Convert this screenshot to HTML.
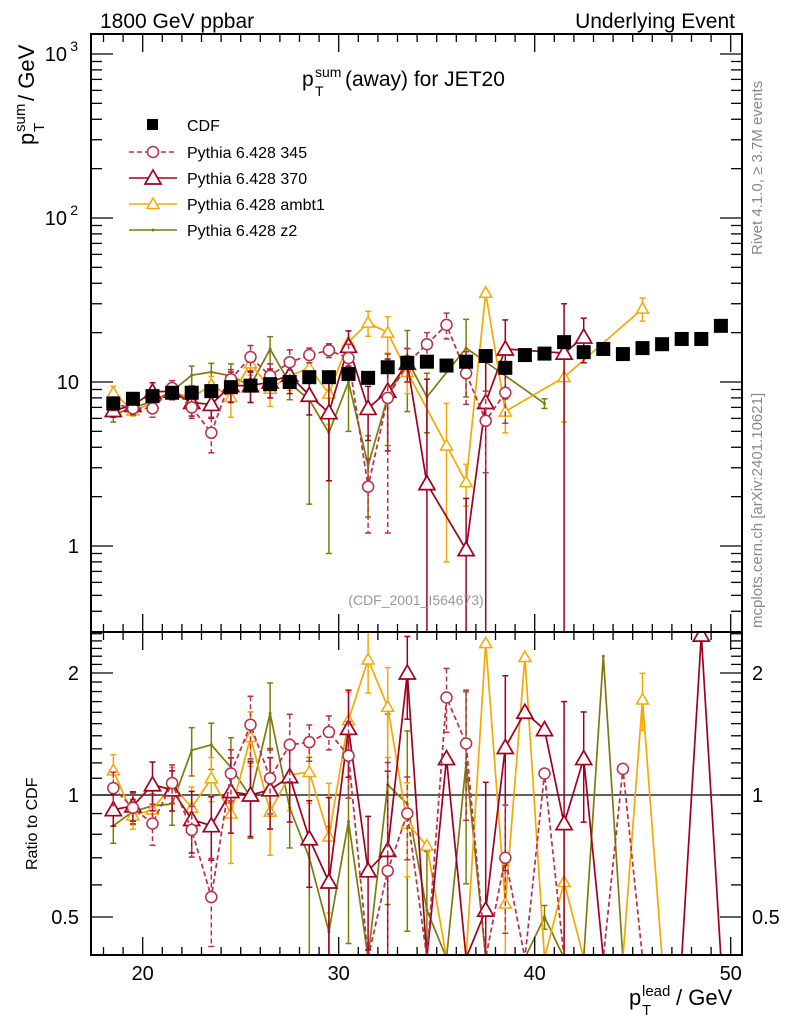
<!DOCTYPE html>
<html><head><meta charset="utf-8"><style>
html,body{margin:0;padding:0;background:#fff;overflow:hidden;width:786px;height:1024px;}
svg{display:block;font-family:"Liberation Sans",sans-serif;overflow:hidden;}
</style></head><body>
<svg id="c" width="786" height="1024" viewBox="0 0 786 1024" xmlns="http://www.w3.org/2000/svg">
<g id="g"></g>
</svg>
<script>
const bins=[18.5,19.5,20.5,21.5,22.5,23.5,24.5,25.5,26.5,27.5,28.5,29.5,30.5,31.5,32.5,33.5,34.5,35.5,36.5,37.5,38.5,39.5,40.5,41.5,42.5,43.5,44.5,45.5,46.5,47.5,48.5,49.5];
const cdfVals=[7.4,7.9,8.2,8.6,8.6,8.8,9.3,9.5,9.7,10,10.7,10.7,11.2,10.6,12.3,13.1,13.3,12.6,13.3,14.4,12.2,14.6,14.9,17.5,15.2,15.9,14.8,16.1,17.0,18.3,18.3,22];
const p345Vals=[7.4,6.9,6.9,9.2,7.0,4.9,10.4,14.2,10.9,13.2,14.6,15.6,14.0,2.3,8.0,13,17,22.3,11.3,5.8,8.6,null,null,null,null,null,null,null,null,null,null,null];
const p345Err=[0.7,0.6,0.8,1,1,1.2,1.5,2.5,2,2.5,1.5,1.5,3,1.1,6.8,3,3,4,4,3,3,null,null,null,null,null,null,null,null,null,null,null];
const p370Vals=[6.7,7.2,8.7,8.8,7.5,7.3,9.5,9.5,10,11,8.3,6.5,16.5,6.9,8.8,13,2.4,null,0.95,7.5,15.9,null,null,15.0,18.8,null,null,null,null,null,null,null];
const p370Err=[0.6,0.6,1.2,1,1.3,1.3,2,2,2,2.5,2,4,4,2.5,5,3,8,null,1,8,8,null,null,15,5.7,null,null,null,null,null,null,null];
const ambVals=[8.6,6.7,7.4,8.7,8.0,9.6,8.1,13.0,9.1,10.9,12.2,8.5,17.5,23,20,11.5,null,4.1,2.45,35,6.6,null,null,10.7,null,null,null,28,null,null,null,null];
const ambErr=[0.8,0.5,0.7,0.9,1,1.2,2,2,2,2,2,3,3,4,5,3,null,3.3,0.7,0,1.7,null,null,5,null,null,null,4.5,null,null,null,null];
const z2Vals=[6.3,7.0,7.6,8.8,11.0,11.5,10.9,9.5,15.9,9.8,7.8,4.9,10,3.1,8.1,13.6,8.1,null,16.1,null,null,null,7.4,null,null,null,null,null,null,null,null,null];
const z2Err=[0.6,0.5,0.8,1,1.5,1.5,2,2,3,2,6,4,5,1.6,4,7,3.2,null,8,null,null,null,0.5,null,null,null,null,null,null,null,null,null];
const r345=[1.04,0.93,0.85,1.07,0.82,0.56,1.13,1.49,1.10,1.33,1.35,1.43,1.25,0,0.65,0.9,0,1.74,1.34,0,0.70,0,1.13,0,0,0,1.16,0,0,0,0,0];
const r370=[0.92,0.94,1.06,1.03,0.87,0.84,1.02,1.0,1.03,1.11,0.78,0.61,1.46,0.65,0.73,2.0,0,1.23,0,0.52,1.31,1.6,1.45,0.85,1.23,0,0,0,0,0,2.48,0];
const rAmb=[1.15,0.89,0.92,1.06,0.93,1.10,0.90,1.39,0.91,1.12,1.14,0.79,1.53,2.16,1.65,0.85,0.75,0,0,2.37,0.54,2.19,0,0.61,0,0,0,1.72,0,0,0,0];
const rZ2=[0.84,0.91,0.94,0.95,1.29,1.33,1.17,0.99,1.59,0.93,0.70,0.46,0.86,0,1.06,0.95,0.52,0,1.2,0,0,0,0.5,0,0,2.2,0,0,0,0,0,0];
const xTicks=[20,30,40,50];
const yTicks=[1,10,100,1000];
const yTickLabels=["1","10","10","10"];
const rTicks=[0.5,1,2];

const NS="http://www.w3.org/2000/svg";
const G=document.getElementById('g');
const L=91,R=742,T=34,MB=632,RB=955;
const xs=v=>142.7+(v-20)*19.6;
const ym=v=>546-Math.log10(v)*164;
const yr=v=>795-Math.log2(v)*122;
function el(tag,attrs,parent){const e=document.createElementNS(NS,tag);for(const k in attrs)e.setAttribute(k,attrs[k]);(parent||G).appendChild(e);return e;}
function txt(x,y,s,size,anchor,fill,parent){const e=el('text',{x:x,y:y,'font-size':size,'text-anchor':anchor||'start',fill:fill||'#000'},parent);e.textContent=s;return e;}

const colors={c345:'#b83048',c370:'#a00020',amb:'#f5a800',z2:'#7c7c0c'};

const defs=el('defs',{});
const cp1=el('clipPath',{id:'cm'},defs);el('rect',{x:L,y:T,width:R-L,height:MB-T},cp1);
const cp2=el('clipPath',{id:'cr'},defs);el('rect',{x:L,y:MB,width:R-L,height:RB-MB},cp2);

const mainG=el('g',{'clip-path':'url(#cm)'});


const ratG=el('g',{'clip-path':'url(#cr)'});



const one=el('line',{x1:L,x2:R,y1:yr(1),y2:yr(1),stroke:'#000','stroke-width':1.2},ratG);



function marker(parent,kind,x,y,col){
  if(kind==='circle'){el('circle',{cx:x,cy:y,r:5.5,fill:'#fff',stroke:col,'stroke-width':1.5},parent);}
  else if(kind==='tri'){el('path',{d:`M${x},${y-8}L${x+8},${y+6}L${x-8},${y+6}Z`,fill:'#fff',stroke:col,'stroke-width':1.7},parent);}
  else if(kind==='stri'){el('path',{d:`M${x},${y-6}L${x+6},${y+4.5}L${x-6},${y+4.5}Z`,fill:'#fff',stroke:col,'stroke-width':1.5},parent);}
  else if(kind==='dot'){el('circle',{cx:x,cy:y,r:1.5,fill:col},parent);}
}
function drawMain(name,vals,errs,col,kind,dash){
  const g=el('g',{},mainG);
  
  
  let d='',started=false;
  vals.forEach((v,i)=>{if(v==null)return;const x=xs(bins[i]),y=ym(v);d+=(started?'L':'M')+x+','+y;started=true;});
  el('path',{d:d,fill:'none',stroke:col,'stroke-width':1.7,'stroke-dasharray':dash||'none'},g);
  vals.forEach((v,i)=>{if(v==null)return;const x=xs(bins[i]);const e=errs[i]||0;
    if(e>0){const hi=ym(v+e),lo=(v-e)>0?Math.min(ym(v-e),MB+2):MB+2;
      el('line',{x1:x,x2:x,y1:hi,y2:lo,stroke:col,'stroke-width':1.5,'stroke-dasharray':dash||'none'},g);
      el('line',{x1:x-3,x2:x+3,y1:hi,y2:hi,stroke:col,'stroke-width':1.5},g);
      if(v-e>0)el('line',{x1:x-3,x2:x+3,y1:lo,y2:lo,stroke:col,'stroke-width':1.5},g);}
    marker(g,kind,x,ym(v),col);});
}
function drawRatio(name,rv,vals,errs,col,kind,dash){
  const g=el('g',{},ratG);
  
  
  let d='';
  rv.forEach((r,i)=>{const x=xs(bins[i]);const y=r>0?yr(r):RB+3;d+=(i?'L':'M')+x+','+y;});
  el('path',{d:d,fill:'none',stroke:col,'stroke-width':1.7,'stroke-dasharray':dash||'none'},g);
  rv.forEach((r,i)=>{if(!(r>0))return;const x=xs(bins[i]);
    const v=vals[i],e=errs[i];
    if(v&&e){const re=r*e/v;const hi=Math.max(yr(r+re),MB-2),lo=(r-re)>0?Math.min(yr(r-re),RB+2):RB+2;
      el('line',{x1:x,x2:x,y1:hi,y2:lo,stroke:col,'stroke-width':1.5,'stroke-dasharray':dash||'none'},g);
      el('line',{x1:x-3,x2:x+3,y1:hi,y2:hi,stroke:col,'stroke-width':1.5},g);
      if(r-re>0)el('line',{x1:x-3,x2:x+3,y1:lo,y2:lo,stroke:col,'stroke-width':1.5},g);}
    marker(g,kind,x,yr(r),col);});
}
drawMain('pythia-z2',z2Vals,z2Err,colors.z2,'dot');
drawMain('pythia-ambt1',ambVals,ambErr,colors.amb,'stri');
drawMain('pythia-370',p370Vals,p370Err,colors.c370,'tri');
drawMain('pythia-345',p345Vals,p345Err,colors.c345,'circle','5,3');
drawRatio('pythia-z2',rZ2,z2Vals,z2Err,colors.z2,'dot');
drawRatio('pythia-ambt1',rAmb,ambVals,ambErr,colors.amb,'stri');
drawRatio('pythia-370',r370,p370Vals,p370Err,colors.c370,'tri');
drawRatio('pythia-345',r345,p345Vals,p345Err,colors.c345,'circle','5,3');
const cg=el('g',{},mainG);


cdfVals.forEach((v,i)=>{const s=el('rect',{x:xs(bins[i])-7,y:ym(v)-7,width:14,height:14,fill:'#000'},cg);

});

const f1=el('rect',{x:L,y:T,width:R-L,height:MB-T,fill:'none',stroke:'#000','stroke-width':2});


const f2=el('rect',{x:L,y:MB,width:R-L,height:RB-MB,fill:'none',stroke:'#000','stroke-width':2});



const axg=el('g',{stroke:'#000','stroke-width':1.3});


for(let k=18;k<=50;k++){const x=xs(k);const major=k%10===0;const len=major?18:8;
  el('line',{x1:x,x2:x,y1:T,y2:T+len},axg);el('line',{x1:x,x2:x,y1:MB,y2:MB-len},axg);
  el('line',{x1:x,x2:x,y1:MB,y2:MB+len},axg);el('line',{x1:x,x2:x,y1:RB,y2:RB-len},axg);}
xTicks.forEach(v=>{const t=txt(xs(v),980,String(v),20,'middle');});
const ayg=el('g',{stroke:'#000','stroke-width':1.3});


for(let dec=0.1;dec<=1000;dec*=10){for(let m=1;m<10;m++){const v=dec*m;const y=ym(v);if(y<T||y>MB)continue;const len=m===1?22:11;
  el('line',{x1:L,x2:L+len,y1:y,y2:y},ayg);el('line',{x1:R,x2:R-len,y1:y,y2:y},ayg);}}
yTicks.forEach((v,i)=>{let t;
  if(i<2){t=txt(L-12,ym(v)+7,yTickLabels[i],20,'end');}
  else{t=txt(L-24,ym(v)+7,yTickLabels[i],20,'end');
    const s=txt(L-13,ym(v)-3,i===2?'2':'3',14,'end');}
  });
[0.4,0.5,0.6,0.7,0.8,0.9,1,1.1,1.2,1.3,1.4,1.5,1.6,1.7,1.8,1.9,2,2.1,2.2,2.3,2.4,2.5].forEach(v=>{const y=yr(v);if(y<MB||y>RB)return;const major=(v===0.5||v===1||v===2);const len=major?22:11;
  el('line',{x1:L,x2:L+len,y1:y,y2:y},ayg);el('line',{x1:R,x2:R-len,y1:y,y2:y},ayg);});
rTicks.forEach(v=>{const a=txt(L-12,yr(v)+7,String(v),20,'end');
  const b=txt(R+10,yr(v)+7,String(v),20,'start');});

let t;
t=txt(100,28,'1800 GeV ppbar',21);
t=txt(735,28,'Underlying Event',21,'end');
// title
const tg=el('g',{});


txt(302,86,'p',21,'start','#000',tg);
txt(315,77,'sum',14,'start','#000',tg);
txt(315,96,'T',14,'start','#000',tg);
txt(345,86,'(away) for JET20',21,'start','#000',tg);
// y title
const yg=el('g',{transform:'translate(34,0) rotate(-90)'});


txt(-145,0,'p',22,'start','#000',yg);
txt(-132,-9,'sum',15,'start','#000',yg);
txt(-132,10,'T',15,'start','#000',yg);
txt(-101,0,'/ GeV',22,'start','#000',yg);
t=el('text',{transform:'translate(37,870) rotate(-90)','font-size':16});t.textContent='Ratio to CDF';

// x title
const xg=el('g',{});


txt(629,1005,'p',22,'start','#000',xg);
txt(642,996,'lead',15,'start','#000',xg);
txt(642,1015,'T',15,'start','#000',xg);
txt(676,1005,'/ GeV',22,'start','#000',xg);
t=txt(416,605,'(CDF_2001_I564673)',14,'middle','#999');
t=el('text',{transform:'translate(762,255) rotate(-90)','font-size':15,fill:'#888'});t.textContent='Rivet 4.1.0, ≥ 3.7M events';

t=el('text',{transform:'translate(762,628) rotate(-90)','font-size':15,fill:'#888'});t.textContent='mcplots.cern.ch [arXiv:2401.10621]';


const lg=el('g',{});


const legNames=['CDF','Pythia 6.428 345','Pythia 6.428 370','Pythia 6.428 ambt1','Pythia 6.428 z2'];
const legY=[125,152,178,204,230];
legNames.forEach((n,i)=>{const e=el('g',{},lg);
  
  
  const y=legY[i];
  if(i===0){el('rect',{x:147,y:y-6,width:11,height:11,fill:'#000'},e);}
  else{const cols=[null,colors.c345,colors.c370,colors.amb,colors.z2];const kinds=[null,'circle','tri','stri','dot'];
    el('line',{x1:129,x2:177,y1:y,y2:y,stroke:cols[i],'stroke-width':1.5,'stroke-dasharray':i===1?'5,3':'none'},e);
    marker(e,kinds[i],153,y,cols[i]);}
  txt(187,y+6,n,16,'start','#000',e);});
</script>
</body></html>
